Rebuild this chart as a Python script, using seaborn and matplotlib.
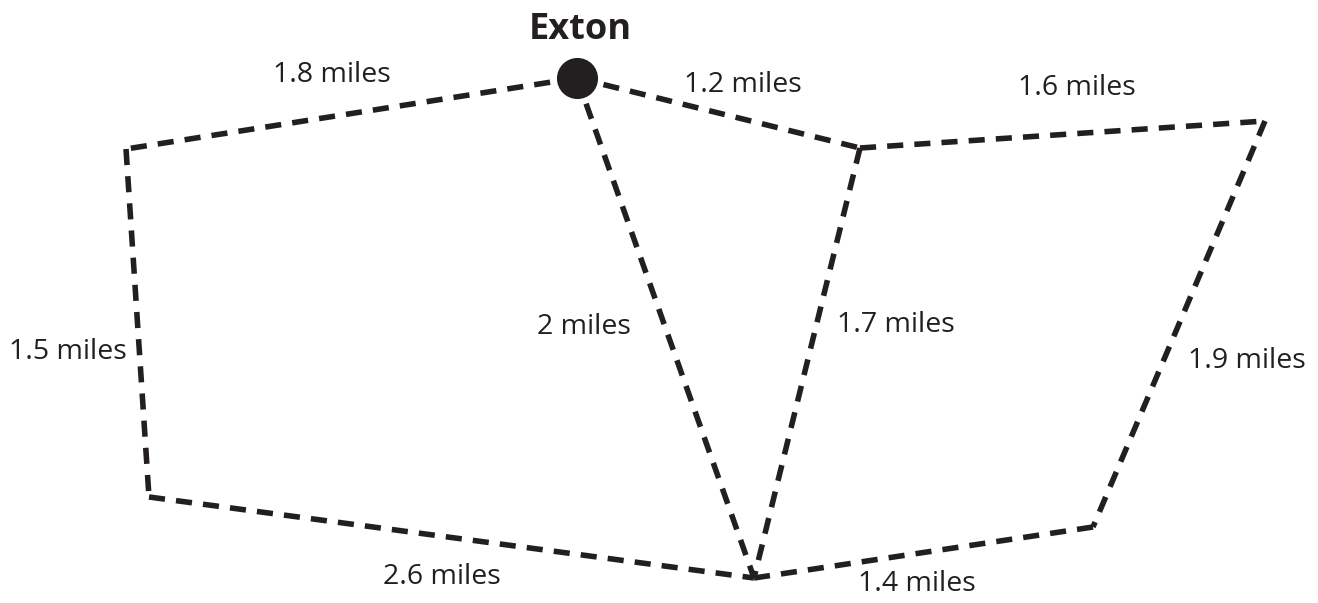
import pandas as pd
import matplotlib.pyplot as plt
import seaborn as sns

sns.set_theme(style="white")
plt.rcParams['font.family'] = ['Open Sans', 'DejaVu Sans']

# nodes (pixel positions of the map)
nodes = ["Exton", "A", "B", "C", "D", "E", "F"]
node_x = [577, 126, 149, 754, 860, 1265, 1093]
node_y = [78, 149, 497, 578, 148, 121, 527]

# edges and their distances
edge_from = ["Exton", "Exton", "D", "A", "Exton", "D", "E", "B", "C"]
edge_to = ["A", "D", "E", "B", "C", "C", "F", "C", "F"]
edge_miles = ["1.8", "1.2", "1.6", "1.5", "2", "1.7", "1.9", "2.6", "1.4"]
label_x = [332, 743, 1077, 68, 584, 896, 1247, 442, 917]
label_y = [75, 85, 88, 352, 327, 325, 361, 577, 584]

pos = {n: (x, y) for n, x, y in zip(nodes, node_x, node_y)}
rows = []
for i, (a, b) in enumerate(zip(edge_from, edge_to)):
    rows.append({"edge": i, "x": pos[a][0], "y": pos[a][1]})
    rows.append({"edge": i, "x": pos[b][0], "y": pos[b][1]})
edges = pd.DataFrame(rows)

ink = "#231f20"

fig = plt.figure(figsize=(13.18, 6.03), dpi=100)
ax = fig.add_axes([0, 0, 1, 1])

sns.lineplot(data=edges, x="x", y="y", units="edge", estimator=None, sort=False,
             color=ink, linewidth=4.0, linestyle=(0, (2.9, 2.0)),
             dash_capstyle="butt", ax=ax, legend=False)

sns.scatterplot(x=[pos["Exton"][0]], y=[pos["Exton"][1]], s=750, color=ink,
                edgecolor=ink, ax=ax, zorder=5, legend=False)

for m, lx, ly in zip(edge_miles, label_x, label_y):
    ax.text(lx, ly, f"{m} miles", fontsize=20.5, color=ink, ha="center", va="center")

ax.text(580, 30, "Exton", fontsize=26, fontweight="bold", color=ink,
        ha="center", va="center")

ax.set_xlim(0, 1318)
ax.set_ylim(603, 0)
ax.set_axis_off()

fig.savefig("out.png", dpi=100)
